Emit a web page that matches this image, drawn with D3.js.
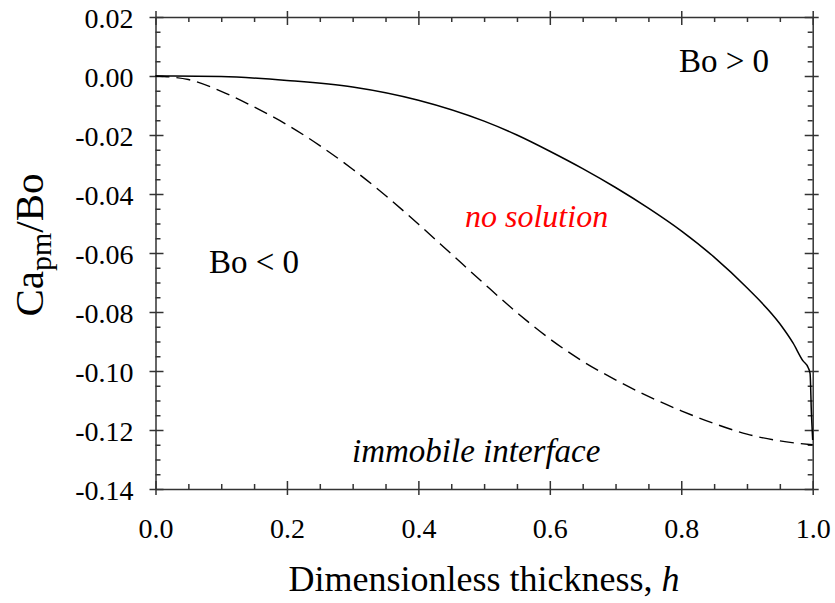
<!DOCTYPE html>
<html lang="en">
<head>
  <meta charset="UTF-8" />
  <title>Ca_pm/Bo vs dimensionless thickness</title>
  <script src="https://cdn.jsdelivr.net/npm/d3@7"></script>
  <style>
    body { margin: 0; background: #fff; }
    svg text { font-family: "Liberation Serif", "Times New Roman", serif; fill: #000; }
  </style>
</head>
<body>
  <svg id="chart" width="835" height="603"></svg>
  <script>
    // immobile interface limit (dashed)
    var dashH = [0, 0.05, 0.1, 0.15, 0.2, 0.25, 0.3, 0.35, 0.4, 0.45, 0.5, 0.55, 0.6, 0.65, 0.7, 0.75, 0.8, 0.85, 0.9, 0.95, 1.0];
    var dashV = [0, -0.0012, -0.0052, -0.0105, -0.0165, -0.0236, -0.0316, -0.0405, -0.0502, -0.0603, -0.0704, -0.0802, -0.0891, -0.0967, -0.1030, -0.1086, -0.1135, -0.1178, -0.1214, -0.1237, -0.1250];

    // Bo > 0 / Bo < 0 boundary (solid)
    var solidH = [0, 0.1, 0.2, 0.3, 0.4, 0.5, 0.55, 0.6, 0.65, 0.7, 0.75, 0.8, 0.85, 0.9, 0.95, 0.97, 0.985, 0.993, 0.996, 0.998, 1.0];
    var solidV = [0, -0.0002, -0.0015, -0.0037, -0.0082, -0.0153, -0.0200, -0.0255, -0.0314, -0.0378, -0.0448, -0.0525, -0.0614, -0.0718, -0.0840, -0.0905, -0.0965, -0.0988, -0.1008, -0.1140, -0.1234];

    var xMajor = [0, 0.2, 0.4, 0.6, 0.8, 1.0];
    var xMinor = [0.05, 0.1, 0.15, 0.25, 0.3, 0.35, 0.45, 0.5, 0.55, 0.65, 0.7, 0.75, 0.85, 0.9, 0.95];
    var yMajor = [0.02, 0, -0.02, -0.04, -0.06, -0.08, -0.10, -0.12, -0.14];
    var yMinor = d3.range(-0.14, 0.0201, 0.005).filter(function(v) {
      return Math.abs(Math.round(v * 1000) % 20) !== 0;
    });

    var svg = d3.select("#chart");
    var padL = 155.5, padR = 812.7, padT = 17, padB = 489;

    var x = d3.scaleLinear().domain([0, 1]).range([padL, padR]);
    var y = d3.scaleLinear().domain([-0.14, 0.02]).range([padB, padT]);

    var axisColor = "#333";

    function styleAxis(g) {
      g.selectAll("path, line").attr("stroke", axisColor).attr("stroke-width", 1.5);
    }

    // bottom
    var gb = svg.append("g").attr("transform", "translate(0," + padB + ")")
      .call(d3.axisBottom(x).tickValues(xMajor).tickSize(-8).tickSizeOuter(0)
        .tickFormat(function(d) { return d.toFixed(1); }));
    gb.selectAll(".tick line").attr("y1", 6);
    gb.selectAll(".tick text").attr("y", 49).attr("dy", 0)
      .style("font-size", "28px").style("font-family", "Liberation Serif");
    styleAxis(gb);
    var gbm = svg.append("g").attr("transform", "translate(0," + padB + ")")
      .call(d3.axisBottom(x).tickValues(xMinor).tickSize(-5).tickFormat(""));
    gbm.select(".domain").remove();
    styleAxis(gbm);

    // top
    var gt = svg.append("g").attr("transform", "translate(0," + padT + ")")
      .call(d3.axisTop(x).tickValues(xMajor).tickSize(-8).tickSizeOuter(0).tickFormat(""));
    gt.selectAll(".tick line").attr("y1", -6);
    styleAxis(gt);
    var gtm = svg.append("g").attr("transform", "translate(0," + padT + ")")
      .call(d3.axisTop(x).tickValues(xMinor).tickSize(-5).tickFormat(""));
    gtm.select(".domain").remove();
    styleAxis(gtm);

    // left
    var gl = svg.append("g").attr("transform", "translate(" + padL + ",0)")
      .call(d3.axisLeft(y).tickValues(yMajor).tickSize(-8).tickSizeOuter(0)
        .tickFormat(function(d) { return d.toFixed(2); }));
    gl.selectAll(".tick line").attr("x1", -6);
    gl.selectAll(".tick text").attr("x", -22).attr("dy", "0.36em")
      .style("font-size", "28px").style("font-family", "Liberation Serif");
    styleAxis(gl);
    var glm = svg.append("g").attr("transform", "translate(" + padL + ",0)")
      .call(d3.axisLeft(y).tickValues(yMinor).tickSize(-5).tickFormat(""));
    glm.select(".domain").remove();
    styleAxis(glm);

    // right
    var gr = svg.append("g").attr("transform", "translate(" + padR + ",0)")
      .call(d3.axisRight(y).tickValues(yMajor).tickSize(-8).tickSizeOuter(0).tickFormat(""));
    gr.selectAll(".tick line").attr("x1", 6);
    styleAxis(gr);
    var grm = svg.append("g").attr("transform", "translate(" + padR + ",0)")
      .call(d3.axisRight(y).tickValues(yMinor).tickSize(-5).tickFormat(""));
    grm.select(".domain").remove();
    styleAxis(grm);

    // curves
    var line = d3.line()
      .x(function(d) { return x(d[0]); })
      .y(function(d) { return y(d[1]); })
      .curve(d3.curveMonotoneX);

    svg.append("path")
      .datum(d3.zip(dashH, dashV))
      .attr("d", line)
      .attr("fill", "none")
      .attr("stroke", "#000")
      .attr("stroke-width", 1.4)
      .attr("stroke-dasharray", "14,7");

    svg.append("path")
      .datum(d3.zip(solidH, solidV))
      .attr("d", line)
      .attr("fill", "none")
      .attr("stroke", "#000")
      .attr("stroke-width", 1.5);

    // annotations
    svg.append("text").attr("x", 679).attr("y", 72)
      .style("font-size", "33px").text("Bo > 0");
    svg.append("text").attr("x", 209).attr("y", 273)
      .style("font-size", "33px").text("Bo < 0");
    svg.append("text").attr("x", 465).attr("y", 227)
      .style("font-size", "32px").style("font-style", "italic")
      .style("fill", "#ff0000").text("no solution");
    svg.append("text").attr("x", 352).attr("y", 462)
      .style("font-size", "33px").style("font-style", "italic").text("immobile interface");

    // x axis title
    var xt = svg.append("text")
      .attr("x", (padL + padR) / 2).attr("y", 591)
      .attr("text-anchor", "middle")
      .style("font-size", "36px");
    xt.append("tspan").text("Dimensionless thickness, ");
    xt.append("tspan").style("font-style", "italic").text("h");

    // y axis title
    var yt = svg.append("text")
      .attr("transform", "translate(43,245) rotate(-90)")
      .attr("text-anchor", "middle")
      .style("font-size", "41px");
    yt.append("tspan").text("Ca");
    yt.append("tspan").attr("dy", 8).style("font-size", "30px").text("pm");
    yt.append("tspan").attr("dy", -8).text("/Bo");
  </script>
</body>
</html>
